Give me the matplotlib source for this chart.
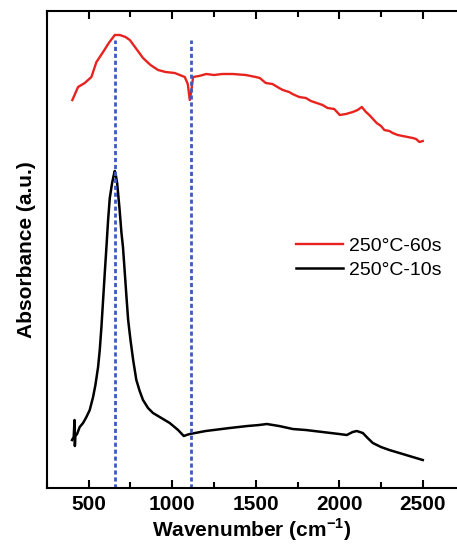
# -*- coding: utf-8 -*-
import numpy as np
import matplotlib
matplotlib.use('Agg')
import matplotlib.pyplot as plt
from matplotlib.ticker import MultipleLocator

plt.rcParams.update({'font.family': 'Liberation Sans',
                     'font.size': 15,
                     'axes.linewidth': 1.5,
                     'mathtext.fontset': 'custom',
                     'mathtext.rm': 'Liberation Sans',
                     'mathtext.bf': 'Liberation Sans:bold',
                     'xtick.direction': 'in',
                     'xtick.major.width': 1.5,
                     'xtick.minor.width': 1.5})

# spectra (arbitrary absorbance units)
wn_60s = [402, 436, 476, 516, 546, 586, 620, 656, 686, 720, 746, 790, 825, 870, 915,
          960, 1015, 1045, 1075, 1093, 1105, 1115, 1125, 1160, 1204, 1250, 1300, 1363,
          1440, 1500, 1524, 1560, 1600, 1640, 1662, 1700, 1720, 1760, 1800, 1830, 1865,
          1900, 1930, 1970, 2003, 2040, 2081, 2110, 2135, 2160, 2180, 2224, 2250, 2270,
          2300, 2320, 2350, 2380, 2410, 2440, 2460, 2480, 2500]
abs_60s = [388, 401, 405, 411, 426, 436, 445, 453, 453, 451, 448, 438, 430, 423, 418,
           416, 415, 413, 411, 404, 388, 398, 411, 412, 414, 413, 414, 414,
           413, 411, 410, 405, 404, 400, 398, 396, 394, 391, 390, 387, 385,
           383, 380, 379, 373, 374, 376, 378, 381, 376, 373, 365, 362, 358,
           357, 355, 353, 352, 351, 350, 349, 346, 347]

wn_10s = [400, 410, 415, 417, 420, 430, 446, 466, 486, 506, 526, 540, 556, 566, 576,
          586, 596, 606, 616, 626, 640, 650, 656, 662, 670, 684, 696, 705, 716, 726,
          736, 750, 766, 785, 805, 825, 855, 885, 935, 985, 1035, 1069, 1085,
          1105, 1200, 1344, 1450, 1520, 1566, 1640, 1722, 1800, 1900, 2000,
          2045, 2080, 2105, 2141, 2170, 2201, 2250, 2300, 2400, 2500]
abs_10s = [48, 51, 68, 42, 52, 54, 61, 65, 71, 78, 91, 103, 121, 138, 161,
           188, 215, 241, 268, 290, 305, 313, 317, 313, 305, 280, 255, 241, 215, 191,
           168, 148, 128, 108, 97, 88, 80, 75, 70, 65, 58, 52, 53,
           54, 57, 60, 62, 63, 64, 62, 59, 58, 56, 54,
           53, 56, 57, 55, 50, 45, 41, 38, 33, 28]

peaks = [655, 1110]
labels = ['250\u00b0C-60s', '250\u00b0C-10s']

fig = plt.figure(figsize=(4.57, 5.5), dpi=100)
ax = fig.add_axes([0.1028, 0.1127, 0.8972, 0.8673])

ax.plot(wn_60s, abs_60s, color='#e8231f', lw=1.7, label=labels[0])
ax.plot(wn_10s, abs_10s, color='black', lw=1.8, label=labels[1])
for p in peaks:
    ax.plot([p, p], [0, 448], color='#3a5bbf', lw=2.0, ls=(0, (1.5, 1.0)))

ax.set_xlim(250, 2705)
ax.set_ylim(0, 477)
ax.spines['right'].set_visible(False)
ax.xaxis.set_major_locator(MultipleLocator(500))
ax.xaxis.set_minor_locator(MultipleLocator(250))
ax.tick_params(axis='x', which='major', length=6, top=True, labelsize=15, pad=5)
ax.tick_params(axis='x', which='minor', length=4, top=True)
ax.set_yticks([])
for t in ax.get_xticklabels():
    t.set_fontweight('bold')

ax.set_xlabel(r'Wavenumber (cm$^{\mathbf{-1}}$)', fontsize=15, fontweight='bold', labelpad=2)
ax.set_ylabel('Absorbance (a.u.)', fontsize=15, fontweight='bold', labelpad=8)

ax.legend(loc='center left', bbox_to_anchor=(296 / 457, 1 - 258 / 550),
          bbox_transform=fig.transFigure, frameon=False, fontsize=14,
          handlelength=2.4, handletextpad=0.35, borderpad=0, borderaxespad=0,
          labelspacing=0.3)

fig.savefig('out.png', dpi=100)
